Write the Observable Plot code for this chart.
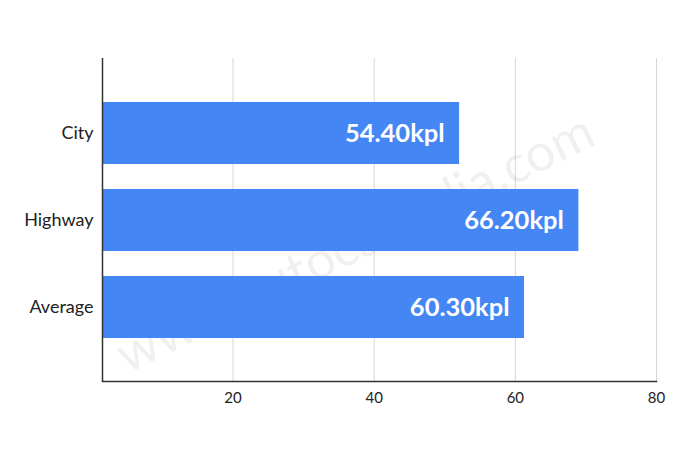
<!DOCTYPE html>
<html>
<head>
<meta charset="utf-8">
<script src="https://cdn.jsdelivr.net/npm/d3@7"></script>
<script src="https://cdn.jsdelivr.net/npm/@observablehq/plot@0.6"></script>
<style>
  body { margin: 0; background: #fff; }
  #chart svg { display: block; }
</style>
</head>
<body>
<div id="chart"></div>
<script>
const categories = ["City", "Highway", "Average"];
const barValues = [52.1, 69.0, 61.3];
const valueLabels = ["54.40kpl", "66.20kpl", "60.30kpl"];
const xTicks = [20, 40, 60, 80];
const xDomain = [1.5, 80];
const watermark = ["www.autocarindia.com"];

const rows = categories.map((c, i) => ({ category: c, value: barValues[i], label: valueLabels[i] }));

const chart = Plot.plot({
  width: 700,
  height: 464,
  marginTop: 58,
  marginBottom: 83,
  marginLeft: 102,
  marginRight: 44,
  style: { fontFamily: "Lato, sans-serif", background: "#fff" },
  x: { domain: xDomain, ticks: xTicks },
  y: { domain: categories, paddingInner: 0.29, paddingOuter: 0.5 },
  marks: [
    Plot.gridX(xTicks, { stroke: "#d6d6d6", strokeOpacity: 1, strokeWidth: 1 }),
    Plot.text(watermark, {
      frameAnchor: "middle", text: d => d, rotate: -26,
      fontSize: 52, fill: "#000", fillOpacity: 0.06, dx: -24, dy: 24
    }),
    Plot.barX(rows, { y: "category", x: "value", fill: "#4486f4", clip: true }),
    Plot.text(rows, {
      y: "category", x: "value", text: "label", textAnchor: "end", dx: -15,
      fill: "#fff", fontSize: 25.5, fontWeight: "bold"
    }),
    Plot.axisY({ tickSize: 0, tickPadding: 9, fontSize: 18, fill: "#222", label: null }),
    Plot.axisX(xTicks, { tickSize: 0, tickPadding: 11, fontSize: 15, fill: "#222", label: null }),
    Plot.ruleX([xDomain[0]], { stroke: "#333", strokeWidth: 1.5 }),
    Plot.frame({ anchor: "bottom", stroke: "#333", strokeWidth: 1.5 })
  ]
});
document.getElementById("chart").appendChild(chart);
</script>
</body>
</html>
